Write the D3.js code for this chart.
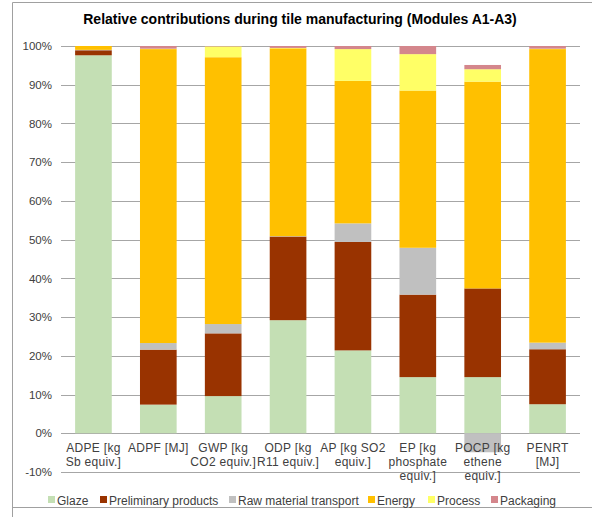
<!DOCTYPE html>
<html><head><meta charset="utf-8">
<script src="https://cdn.jsdelivr.net/npm/d3@7"></script>
<style>body{margin:0;background:#fff;}svg{display:block;font-family:"Liberation Sans",Arial,sans-serif;}</style>
</head><body>
<svg id="chart" width="592" height="517"></svg>
<script>
const title = "Relative contributions during tile manufacturing (Modules A1-A3)";
const categories = ["ADPE [kg Sb equiv.]", "ADPF [MJ]", "GWP [kg CO2 equiv.]", "ODP [kg R11 equiv.]", "AP [kg SO2 equiv.]", "EP [kg phosphate equiv.]", "POCP [kg ethene equiv.]", "PENRT [MJ]"];
const categoryLines = [["ADPE [kg", "Sb equiv.]"], ["ADPF [MJ]"], ["GWP [kg", "CO2 equiv.]"], ["ODP [kg", "R11 equiv.]"], ["AP [kg SO2", "equiv.]"], ["EP [kg", "phosphate", "equiv.]"], ["POCP [kg", "ethene", "equiv.]"], ["PENRT", "[MJ]"]];
const seriesNames = ["Glaze", "Preliminary products", "Raw material transport", "Energy", "Process", "Packaging"];
const glaze       = [97.6,  7.4,  9.6, 29.2, 21.4, 14.5, 14.5,  7.5];
const preliminary = [ 1.3, 14.2, 16.2, 21.6, 28.0, 21.3, 22.9, 14.2];
const rawTransport= [ 0.1,  1.7,  2.4,  0.1,  4.8, 12.1, -4.9,  1.7];
const energy      = [ 1.0, 75.9, 68.9, 48.5, 36.8, 40.6, 53.4, 75.8];
const process     = [ 0.0,  0.1,  2.8,  0.1,  8.2,  9.4,  3.2,  0.1];
const packaging   = [ 0.0,  0.7,  0.1,  0.5,  0.8,  2.1,  1.1,  0.7];
const yTicks = [-10, 0, 10, 20, 30, 40, 50, 60, 70, 80, 90, 100];
const colors = ["#c4dfb4", "#993300", "#c0c0c0", "#ffc000", "#ffff66", "#d4868c"];

const seriesValues = [glaze, preliminary, rawTransport, energy, process, packaging];
const rows = categories.map((c, i) => {
  const r = {category: c};
  seriesNames.forEach((s, j) => r[s] = seriesValues[j][i]);
  return r;
});

const svg = d3.select("#chart");
// frame
svg.append("path").attr("d", "M12.5,600 V2.5 H600 M12.5,507.5 H600").attr("fill", "none").attr("stroke", "#a0a0a0").attr("stroke-width", 1);

const x = d3.scaleBand().domain(categories).range([61, 580]).paddingInner(0.435).paddingOuter(0.2175);
const y = d3.scaleLinear().domain([-10, 100]).range([472, 46]);

svg.append("text").attr("x", 300).attr("y", 24).attr("text-anchor", "middle")
  .attr("font-size", 14).attr("font-weight", "bold").attr("fill", "#000").text(title);

// gridlines
svg.append("g").selectAll("line").data(yTicks).join("line")
  .attr("x1", 61).attr("x2", 580)
  .attr("y1", d => Math.round(y(d)) + 0.5).attr("y2", d => Math.round(y(d)) + 0.5)
  .attr("stroke", "#a6a6a6").attr("stroke-width", 1);

// y axis labels
const yAxis = d3.axisLeft(y).tickValues(yTicks).tickSize(0).tickPadding(0).tickFormat(d => d + "%");
const ya = svg.append("g").attr("transform", "translate(52,0)").call(yAxis);
ya.select(".domain").remove();
ya.selectAll("text").attr("font-size", 11.5).attr("fill", "#404040").attr("font-family", "Liberation Sans, Arial, sans-serif");

const stack = d3.stack().keys(seriesNames).offset(d3.stackOffsetDiverging);
const stacked = stack(rows);

svg.append("g").selectAll("g").data(stacked).join("g")
  .attr("fill", (d, i) => colors[i])
  .selectAll("rect").data(d => d).join("rect")
  .attr("x", d => x(d.data.category))
  .attr("width", x.bandwidth())
  .attr("y", d => y(Math.max(d[0], d[1])))
  .attr("height", d => Math.abs(y(d[0]) - y(d[1])));

// category labels
const xAxis = d3.axisBottom(x).tickSize(0).tickPadding(0).tickFormat(() => "");
const xa = svg.append("g").attr("transform", `translate(0,${y(0)})`).call(xAxis);
xa.select(".domain").remove();
xa.selectAll(".tick text").remove();
xa.selectAll(".tick").append("text")
  .attr("text-anchor", "middle").attr("fill", "#404040").attr("font-size", 12)
  .attr("letter-spacing", 0.3)
  .attr("font-family", "Liberation Sans, Arial, sans-serif")
  .selectAll("tspan").data((d, i) => categoryLines[i]).join("tspan")
  .attr("x", 0).attr("y", (d, i) => 19 + i * 14).text(d => d);

// legend
const legendX = [48, 100, 229, 368, 428, 491];
const lg = svg.append("g").selectAll("g").data(seriesNames).join("g")
  .attr("transform", (d, i) => `translate(${legendX[i]},500)`);
lg.append("rect").attr("x", 0).attr("y", -4).attr("width", 7).attr("height", 7).attr("fill", (d, i) => colors[i]);
lg.append("text").attr("x", 9).attr("y", 4.5).attr("font-size", 12).attr("fill", "#404040").text(d => d);
</script>
</body></html>
